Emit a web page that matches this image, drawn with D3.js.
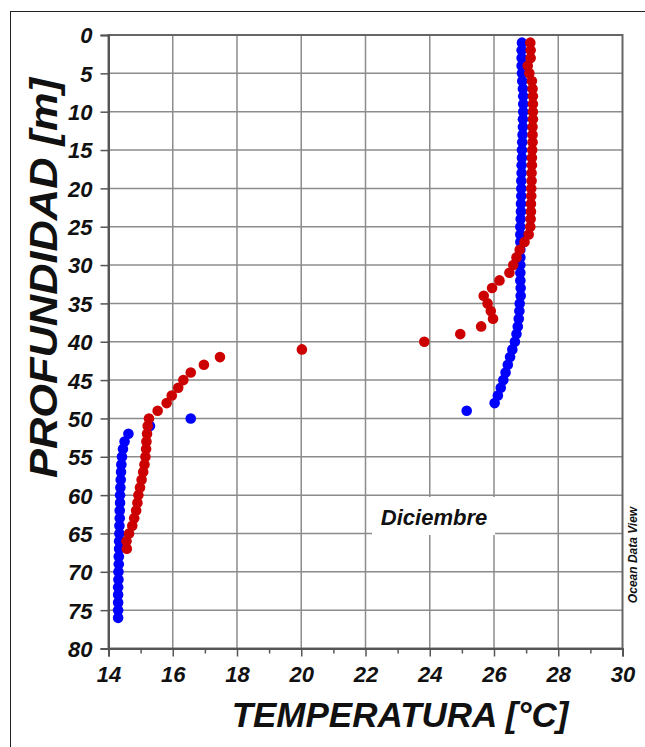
<!DOCTYPE html>
<html>
<head>
<meta charset="utf-8">
<script src="https://cdn.jsdelivr.net/npm/d3@7"></script>
<style>
  body { margin: 0; background: #fff; }
  text { font-family: "Liberation Sans", Arial, sans-serif; font-weight: bold; font-style: italic; fill: #111; }
</style>
</head>
<body>
<div id="chart"></div>
<script>
// depth [m] / temperature [°C]
let blueDepth = [1,2,3,4,5,6,7,8,9,10,11,12,13,14,15,16,17,18,19,20,21,22,23,24,25,26,27,28,29,30,
  31,32,33,34,35,36,37,38,39,40,41,42,43,44,45,46,47,48,49,50,51,52,53,54,55,56,57,58,59,60,
  61,62,63,64,65,66,67,68,69,70,71,72,73,74,75,76];
let blueTemp = [26.87,26.86,26.86,26.86,26.87,26.88,26.9,26.91,26.91,26.91,
  26.9,26.9,26.89,26.88,26.87,26.87,26.86,26.86,26.85,26.85,
  26.85,26.84,26.84,26.83,26.82,26.82,26.82,26.82,26.82,26.82,
  26.82,26.82,26.83,26.83,26.8,26.79,26.77,26.74,26.7,26.65,
  26.57,26.5,26.43,26.36,26.29,26.21,26.12,26.02,25.15,
  16.56,15.29,14.62,14.5,14.45,14.42,14.4,14.39,14.38,14.37,14.36,
  14.36,14.35,14.35,14.34,14.34,14.33,14.33,14.32,14.32,14.31,
  14.31,14.3,14.3,14.3,14.3,14.3];

let redDepth = [1,2,3,4,5,6,7,8,9,10,11,12,13,14,15,16,17,18,19,20,21,22,23,24,25,26,27,28,29,30,
  31,32,33,34,35,36,37,38,39,40,41,42,43,44,45,46,47,48,49,50,51,52,53,54,55,56,57,58,59,60,
  61,62,63,64,65,66,67];
let redTemp = [27.13,27.14,27.14,27.05,27.1,27.18,27.2,27.21,27.21,27.21,
  27.21,27.2,27.2,27.2,27.19,27.18,27.18,27.17,27.17,27.16,
  27.16,27.15,27.15,27.14,27.13,27.08,26.95,26.8,26.7,26.6,
  26.48,26.17,25.94,25.68,25.8,25.9,25.97,25.6,24.95,23.83,
  20.02,17.47,16.97,16.56,16.33,16.17,15.97,15.81,15.53,15.26,
  15.22,15.2,15.18,15.17,15.15,15.12,15.08,15.03,14.98,14.93,
  14.9,14.86,14.8,14.74,14.64,14.56,14.57];

let tempTicks = [14,16,18,20,22,24,26,28,30];
let depthTicks = [0,5,10,15,20,25,30,35,40,45,50,55,60,65,70,75,80];
let monthLabel = "Diciembre";

let width = 645, height = 747;
let margin = { top: 35, right: 22.5, bottom: 98.5, left: 108.5 };

let svg = d3.select('#chart')
  .append('svg')
  .attr('width', width)
  .attr('height', height);

// outer frame of the figure
svg.append('rect')
  .attr('x', 10.5).attr('y', 11.5)
  .attr('width', 700).attr('height', 800)
  .attr('fill', 'none')
  .attr('stroke', '#222')
  .attr('stroke-width', 1);

let x = d3.scaleLinear().domain([14, 30]).range([margin.left, width - margin.right]);
let y = d3.scaleLinear().domain([0, 80]).range([margin.top, height - margin.bottom]);

let plot = svg.append('g');

// grid
plot.selectAll('line.vgrid')
  .data(tempTicks.slice(1, -1))
  .enter().append('line')
  .attr('class', 'vgrid')
  .attr('x1', d => x(d)).attr('x2', d => x(d))
  .attr('y1', y(0)).attr('y2', y(80))
  .attr('stroke', '#8c8c8c').attr('stroke-width', 1.5);

plot.selectAll('line.hgrid')
  .data(depthTicks.slice(1, -1))
  .enter().append('line')
  .attr('class', 'hgrid')
  .attr('x1', x(14)).attr('x2', x(30))
  .attr('y1', d => y(d)).attr('y2', d => y(d))
  .attr('stroke', '#8c8c8c').attr('stroke-width', 1.5);

// frame of the plot
plot.append('rect')
  .attr('x', x(14)).attr('y', y(0))
  .attr('width', x(30) - x(14)).attr('height', y(80) - y(0))
  .attr('fill', 'none')
  .attr('stroke', '#666').attr('stroke-width', 2);

// axes
let xAxis = d3.axisBottom(x)
  .tickValues(tempTicks)
  .tickSize(8)
  .tickPadding(10)
  .tickFormat(d3.format('d'));

let xMinor = d3.axisBottom(x)
  .tickValues(d3.range(15, 30, 2))
  .tickSize(5)
  .tickFormat('');

let yAxis = d3.axisLeft(y)
  .tickValues(depthTicks)
  .tickSize(8)
  .tickPadding(8)
  .tickFormat(d3.format('d'));

function styleAxis(g) {
  g.select('.domain').attr('stroke', '#555').attr('stroke-width', 2);
  g.selectAll('.tick line').attr('stroke', '#555').attr('stroke-width', 1.5);
  g.selectAll('.tick text')
    .attr('fill', '#111')
    .style('font-size', '22px');
}

svg.append('g')
  .attr('transform', 'translate(0,' + y(80) + ')')
  .call(xMinor)
  .call(styleAxis);

svg.append('g')
  .attr('transform', 'translate(0,' + y(80) + ')')
  .call(xAxis)
  .call(styleAxis);

svg.append('g')
  .attr('transform', 'translate(' + x(14) + ',0)')
  .call(yAxis)
  .call(styleAxis)
  .selectAll('.tick text')
  .attr('dy', '0.36em');

// profiles, blue below red
function drawProfile(depths, temps, color) {
  plot.append('g')
    .selectAll('circle')
    .data(depths.map((d, i) => ({ depth: d, temp: temps[i] })))
    .enter().append('circle')
    .attr('cx', d => x(d.temp))
    .attr('cy', d => y(d.depth))
    .attr('r', 5.3)
    .attr('fill', color);
}
drawProfile(blueDepth, blueTemp, '#0000ff');
drawProfile(redDepth, redTemp, '#cc0000');

// month label in a white box
plot.append('rect')
  .attr('x', 372).attr('y', 497)
  .attr('width', 123).attr('height', 38)
  .attr('fill', '#fff');

plot.append('text')
  .attr('x', 434).attr('y', 525)
  .attr('text-anchor', 'middle')
  .style('font-size', '22px')
  .text(monthLabel);

// axis titles
svg.append('text')
  .attr('x', 400).attr('y', 727)
  .attr('text-anchor', 'middle')
  .style('font-size', '35px')
  .text('TEMPERATURA [°C]');

svg.append('text')
  .attr('transform', 'translate(57,278) rotate(-90)')
  .attr('text-anchor', 'middle')
  .attr('textLength', 400)
  .attr('lengthAdjust', 'spacingAndGlyphs')
  .style('font-size', '38px')
  .text('PROFUNDIDAD [m]');

svg.append('text')
  .attr('transform', 'translate(637,555) rotate(-90)')
  .attr('text-anchor', 'middle')
  .style('font-size', '12px')
  .text('Ocean Data View');
</script>
</body>
</html>
